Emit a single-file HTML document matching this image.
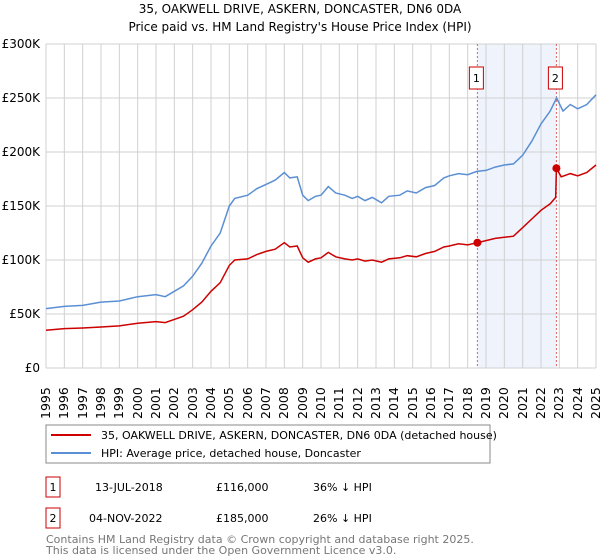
<!DOCTYPE html>
<html><head><meta charset="utf-8"><style>
body{margin:0;background:#fff;font-family:"Liberation Sans","DejaVu Sans",sans-serif;}
svg text{font-family:"DejaVu Sans","Liberation Sans",sans-serif;}
#wrap{position:relative;width:600px;height:560px;overflow:hidden;}
#xl div{position:absolute;top:382px;width:16px;height:37px;writing-mode:vertical-rl;transform:rotate(180deg);font-family:"DejaVu Sans","Liberation Sans",sans-serif;font-size:12.5px;line-height:16px;text-align:start;white-space:nowrap;}
</style></head><body>
<div id="wrap">
<svg id="c" width="600" height="560" style="position:absolute;left:0;top:0" xmlns="http://www.w3.org/2000/svg">
<text x="300" y="13" text-anchor="middle" font-size="12">35, OAKWELL DRIVE, ASKERN, DONCASTER, DN6 0DA</text>
<text x="300" y="31" text-anchor="middle" font-size="12">Price paid vs. HM Land Registry's House Price Index (HPI)</text>
<g id="grid"></g>
<g id="marks"></g>
<rect x="46" y="425" width="444" height="38" fill="#fff" stroke="#888"/>
<line x1="51" y1="435" x2="91" y2="435" stroke="#cc0000" stroke-width="2"/>
<text x="101" y="439" font-size="11">35, OAKWELL DRIVE, ASKERN, DONCASTER, DN6 0DA (detached house)</text>
<line x1="51" y1="453" x2="91" y2="453" stroke="#5b8fd4" stroke-width="2"/>
<text x="101" y="457" font-size="11">HPI: Average price, detached house, Doncaster</text>
<g font-size="11">
<rect x="46" y="477" width="14" height="20" fill="none" stroke="#cc0000"/>
<text x="53" y="491" text-anchor="middle">1</text>
<text x="95" y="491">13-JUL-2018</text>
<text x="216" y="491">£116,000</text>
<text x="313" y="491">36% ↓ HPI</text>
<rect x="46" y="508" width="14" height="20" fill="none" stroke="#cc0000"/>
<text x="53" y="522" text-anchor="middle">2</text>
<text x="89" y="522">04-NOV-2022</text>
<text x="216" y="522">£185,000</text>
<text x="313" y="522">26% ↓ HPI</text>
</g>
<text x="46" y="543" font-size="11" fill="#777">Contains HM Land Registry data © Crown copyright and database right 2025.</text>
<text x="46" y="554" font-size="11" fill="#777">This data is licensed under the Open Government Licence v3.0.</text>
</svg>
<div id="xl"></div>
</div>
<script>
const hpiYears=[1995,1996,1997,1998,1999,2000,2001,2001.5,2002,2002.5,2003,2003.5,2004,2004.5,2005,2005.3,2006,2006.5,2007,2007.5,2008,2008.3,2008.7,2009,2009.3,2009.7,2010,2010.4,2010.8,2011.3,2011.7,2012,2012.4,2012.8,2013.3,2013.7,2014.3,2014.7,2015.2,2015.7,2016.2,2016.7,2017,2017.5,2018,2018.5,2019,2019.5,2020,2020.5,2021,2021.5,2022,2022.5,2022.85,2023.2,2023.6,2024,2024.5,2025];
const hpiValues=[55,57,58,61,62,66,68,66,71,76,85,97,113,125,150,157,160,166,170,174,181,176,177,160,155,159,160,168,162,160,157,159,155,158,153,159,160,164,162,167,169,176,178,180,179,182,183,186,188,189,197,210,226,238,250,238,244,240,244,253];
const priceYears=[1995,1996,1997,1998,1999,2000,2001,2001.5,2002,2002.5,2003,2003.5,2004,2004.5,2005,2005.3,2006,2006.5,2007,2007.5,2008,2008.3,2008.7,2009,2009.3,2009.7,2010,2010.4,2010.8,2011.3,2011.7,2012,2012.4,2012.8,2013.3,2013.7,2014.3,2014.7,2015.2,2015.7,2016.2,2016.7,2017,2017.5,2018,2018.53,2019,2019.5,2020,2020.5,2021,2021.5,2022,2022.5,2022.8,2022.84,2023.1,2023.6,2024,2024.5,2025];
const priceValues=[35,36.5,37,38,39,41.5,43,42,45,48,54,61,71,79,95,100,101,105,108,110,116,112,113,102,98,101,102,107,103,101,100,101,99,100,98,101,102,104,103,106,108,112,113,115,114,116,118,120,121,122,130,138,146,152,158,185,177,180,178,181,188];
const saleYears=[2018.53,2022.84];
const saleValues=[116,185];
const saleLabels=["1","2"];
const yTicks=[0,50,100,150,200,250,300];
const yTickLabels=["£0","£50K","£100K","£150K","£200K","£250K","£300K"];
const xTicks=[1995,1996,1997,1998,1999,2000,2001,2002,2003,2004,2005,2006,2007,2008,2009,2010,2011,2012,2013,2014,2015,2016,2017,2018,2019,2020,2021,2022,2023,2024,2025];

const NS="http://www.w3.org/2000/svg";
const X0=46,X1=596,Y0=368,Y1=44;
const xs=y=>X0+(y-1995)/30*(X1-X0);
const ys=v=>Y0-v/300*(Y0-Y1);
function mk(tag,attrs,parent,txt){const e=document.createElementNS(NS,tag);for(const k in attrs)e.setAttribute(k,attrs[k]);if(txt!==undefined)e.textContent=txt;parent.appendChild(e);return e;}
const grid=document.getElementById('grid'),marks=document.getElementById('marks'),xl=document.getElementById('xl');
let sh=mk('rect',{x:xs(saleYears[0]),y:Y1,width:xs(saleYears[1])-xs(saleYears[0]),height:Y0-Y1,fill:'#eef3fc'},grid);


xTicks.forEach(t=>{
 let l=mk('line',{x1:xs(t),x2:xs(t),y1:Y1,y2:Y0,stroke:'#d0d0d0'},grid);
 
 
 const d=document.createElement('div');
 d.style.left=(xs(t)-8)+'px';
 d.textContent=String(t);
 
 
 xl.appendChild(d);
});
yTicks.forEach((t,i)=>{
 let l=mk('line',{x1:X0,x2:X1,y1:ys(t),y2:ys(t),stroke:'#d0d0d0'},grid);
 
 
 let tx=mk('text',{x:40,y:ys(t)+4,'font-size':12,'text-anchor':'end'},grid,yTickLabels[i]);
 
 
});
saleYears.forEach((s,i)=>{
 let l=mk('line',{x1:xs(s),x2:xs(s),y1:Y1,y2:Y0,stroke:'#e06060','stroke-dasharray':'2,2'},marks);
 
 
});
function path(xa,va,col,name){
 let d=xa.map((x,i)=>(i?'L':'M')+xs(x).toFixed(1)+','+ys(va[i]).toFixed(1)).join('');
 let p=mk('path',{d:d,fill:'none',stroke:col,'stroke-width':1.5},marks);
 
 
}
path(hpiYears,hpiValues,'#5b8fd4','hpi-line');
path(priceYears,priceValues,'#cc0000','price-paid-line');
saleYears.forEach((s,i)=>{
 let c=mk('circle',{cx:xs(s),cy:ys(saleValues[i]),r:4,fill:'#cc0000'},marks);
 
 
 let b=mk('rect',{x:xs(s)-8,y:67,width:14,height:22,fill:'#fff',stroke:'#cc0000'},marks);
 
 
 let t=mk('text',{x:xs(s)-1,y:82,'font-size':11,'text-anchor':'middle'},marks,saleLabels[i]);
 
 
});
</script>
</body></html>
